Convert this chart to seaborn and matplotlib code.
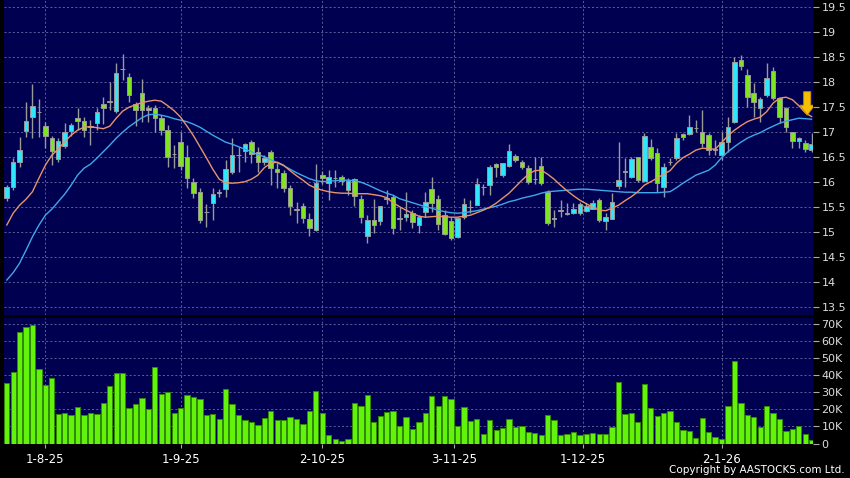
import numpy as np
import pandas as pd
import matplotlib
matplotlib.use("Agg")
import matplotlib.pyplot as plt
import seaborn as sns
from matplotlib.ticker import FuncFormatter, MultipleLocator

### Daily candles (Jul-2025 .. Jan-2026)
opens = [15.67, 15.89, 16.40, 17.02, 17.29, 17.39, 17.12, 16.88, 16.45, 16.71,
         17.01, 17.27, 17.22, 17.10, 17.18, 17.55, 17.60, 17.42, 18.25, 18.10,
         17.55, 17.77, 17.43, 17.48, 17.27, 17.03, 16.55, 16.80, 16.50, 16.00,
         15.80, 15.39, 15.57, 15.78, 15.85, 16.19, 16.53, 16.61, 16.80, 16.60,
         16.39, 16.59, 16.25, 16.17, 15.87, 15.45, 15.52, 15.25, 15.03, 16.13,
         15.97, 16.07, 16.10, 15.83, 16.05, 15.65, 14.91, 15.23, 15.22, 15.66,
         15.70, 15.27, 15.30, 15.37, 15.13, 15.40, 15.85, 15.65, 15.33, 15.22,
         14.89, 15.29, 15.49, 15.53, 15.89, 15.93, 16.35, 16.13, 16.32, 16.52,
         16.40, 16.27, 16.05, 16.31, 15.80, 15.27, 15.42, 15.35, 15.37, 15.37,
         15.41, 15.45, 15.63, 15.21, 15.25, 15.92, 16.20, 16.10, 16.50, 16.01,
         16.69, 16.57, 15.90, 16.39, 16.47, 16.95, 16.95, 17.07, 17.00, 16.93,
         16.65, 16.53, 16.80, 17.20, 18.43, 18.13, 17.77, 17.47, 17.73, 18.22,
         17.67, 17.47, 17.00, 16.82, 16.78, 16.63]
highs = [15.93, 16.47, 16.89, 17.60, 17.95, 17.65, 17.20, 16.91, 16.87, 17.17,
         17.17, 17.48, 17.30, 17.23, 17.47, 17.70, 17.99, 18.37, 18.55, 18.18,
         17.60, 18.05, 17.53, 17.53, 17.33, 17.13, 16.73, 17.00, 16.73, 16.07,
         15.87, 15.55, 15.87, 15.85, 16.43, 16.87, 16.70, 16.78, 16.83, 16.70,
         16.53, 16.63, 16.37, 16.23, 15.93, 15.60, 15.57, 15.37, 16.36, 16.22,
         16.23, 16.23, 16.13, 16.07, 16.08, 15.73, 15.33, 15.65, 15.52, 15.84,
         15.73, 15.50, 15.80, 15.43, 15.33, 15.80, 16.10, 15.73, 15.43, 15.30,
         15.30, 15.67, 15.63, 16.07, 15.95, 16.33, 16.37, 16.37, 16.75, 16.55,
         16.43, 16.33, 16.50, 16.50, 15.83, 15.43, 15.63, 15.57, 15.57, 15.60,
         15.57, 15.63, 15.67, 15.37, 15.78, 16.80, 16.47, 16.50, 16.50, 16.97,
         16.85, 16.67, 16.37, 16.47, 16.98, 16.98, 17.33, 17.23, 17.43, 16.97,
         16.83, 17.00, 17.30, 18.49, 18.53, 18.25, 17.97, 17.70, 18.38, 18.30,
         17.67, 17.50, 17.00, 16.90, 16.83, 16.97]
lows = [15.62, 15.83, 16.30, 16.89, 16.87, 16.90, 16.68, 16.33, 16.39, 16.67,
        16.91, 17.03, 16.90, 16.73, 17.03, 17.15, 17.43, 17.38, 18.03, 17.60,
        17.12, 17.20, 17.20, 17.00, 16.93, 16.30, 16.27, 16.23, 15.87, 15.67,
        15.17, 15.10, 15.23, 15.70, 15.70, 16.15, 16.20, 16.40, 16.37, 16.20,
        16.33, 15.93, 15.87, 15.80, 15.33, 15.17, 15.17, 14.92, 15.02, 15.95,
        15.63, 15.90, 15.93, 15.73, 15.52, 15.18, 14.77, 14.97, 15.13, 15.56,
        14.95, 15.03, 15.22, 15.07, 14.97, 15.30, 15.40, 15.03, 14.93, 14.83,
        14.87, 15.25, 15.37, 15.53, 15.73, 15.73, 16.10, 16.10, 16.30, 16.40,
        16.25, 15.95, 15.95, 15.93, 15.13, 15.10, 15.30, 15.33, 15.35, 15.33,
        15.40, 15.45, 15.20, 15.03, 15.25, 15.85, 15.90, 16.07, 16.00, 16.00,
        16.43, 15.80, 15.70, 16.33, 16.43, 16.83, 16.93, 17.00, 16.70, 16.53,
        16.53, 16.43, 16.60, 17.17, 18.23, 17.50, 17.30, 17.20, 17.70, 17.63,
        17.17, 17.00, 16.67, 16.67, 16.60, 16.60]
closes = [15.89, 16.39, 16.63, 17.21, 17.52, 17.39, 16.92, 16.61, 16.82, 17.00,
          17.14, 17.22, 17.03, 17.10, 17.39, 17.47, 17.60, 18.18, 18.25, 17.73,
          17.43, 17.43, 17.48, 17.27, 17.03, 16.49, 16.55, 16.31, 16.07, 15.78,
          15.23, 15.39, 15.75, 15.78, 16.25, 16.53, 16.53, 16.75, 16.55, 16.40,
          16.47, 16.27, 16.19, 15.87, 15.52, 15.45, 15.27, 15.07, 15.98, 16.07,
          16.10, 16.07, 16.01, 16.01, 15.71, 15.30, 15.23, 15.13, 15.51, 15.66,
          15.07, 15.27, 15.35, 15.20, 15.30, 15.60, 15.57, 15.15, 14.95, 14.87,
          15.27, 15.55, 15.49, 15.95, 15.89, 16.29, 16.29, 16.37, 16.62, 16.43,
          16.29, 16.00, 16.05, 15.98, 15.17, 15.27, 15.42, 15.38, 15.45, 15.55,
          15.51, 15.58, 15.23, 15.30, 15.60, 16.03, 16.20, 16.45, 16.03, 16.92,
          16.47, 15.97, 16.30, 16.39, 16.87, 16.90, 17.09, 17.07, 16.77, 16.63,
          16.65, 16.80, 17.10, 18.40, 18.31, 17.70, 17.60, 17.65, 18.07, 17.67,
          17.30, 17.09, 16.82, 16.87, 16.65, 16.75]
volume_k = [35.7, 42.1, 65.3, 68.4, 69.4, 43.9, 34.3, 38.4, 17.2, 17.7,
            16.4, 21.2, 16.4, 17.7, 17.5, 23.8, 33.5, 41.1, 41.1, 20.5,
            23.4, 26.9, 20.1, 44.6, 29.0, 30.0, 18.1, 20.7, 28.5, 27.3,
            26.1, 16.8, 17.3, 14.6, 32.2, 23.4, 16.8, 13.5, 12.3, 10.9,
            15.0, 19.1, 13.8, 13.8, 15.8, 14.4, 11.3, 18.9, 30.6, 18.1,
            5.1, 2.5, 1.4, 2.7, 23.8, 21.8, 28.5, 12.3, 16.0, 18.3,
            19.1, 10.3, 15.6, 8.2, 12.3, 17.7, 28.1, 22.2, 28.1, 26.1,
            10.3, 21.2, 13.1, 14.2, 5.3, 13.8, 8.0, 8.8, 14.6, 9.4,
            10.3, 6.6, 6.0, 4.9, 16.6, 13.6, 5.1, 5.3, 7.0, 5.1,
            5.5, 6.2, 5.7, 5.5, 9.4, 36.3, 17.0, 17.7, 12.3, 34.9,
            20.7, 16.0, 17.7, 19.3, 12.5, 7.8, 7.4, 3.1, 15.0, 6.8,
            3.7, 2.9, 22.0, 48.5, 24.0, 16.8, 15.8, 9.9, 22.0, 18.1,
            14.4, 7.2, 8.6, 10.3, 5.5, 1.9]
# moving averages as drawn (orange = short, blue = long)
ma_short = [15.13, 15.37, 15.53, 15.65, 15.80, 16.07, 16.33, 16.53, 16.65, 16.80,
            16.93, 17.03, 17.09, 17.10, 17.08, 17.06, 17.11, 17.27, 17.41, 17.49,
            17.54, 17.58, 17.61, 17.63, 17.61, 17.52, 17.42, 17.29, 17.11, 16.92,
            16.70, 16.48, 16.25, 16.05, 15.98, 15.97, 15.98, 16.00, 16.05, 16.13,
            16.28, 16.37, 16.39, 16.33, 16.22, 16.12, 16.03, 15.93, 15.87, 15.83,
            15.80, 15.78, 15.77, 15.77, 15.76, 15.76, 15.76, 15.74, 15.72, 15.68,
            15.58, 15.50, 15.43, 15.37, 15.31, 15.29, 15.30, 15.31, 15.30, 15.29,
            15.29, 15.31, 15.33, 15.38, 15.43, 15.49, 15.57, 15.67, 15.77, 15.90,
            16.03, 16.15, 16.22, 16.23, 16.15, 16.05, 15.93, 15.82, 15.72, 15.63,
            15.56, 15.49, 15.43, 15.42, 15.47, 15.53, 15.62, 15.70, 15.80, 15.93,
            16.00, 16.07, 16.15, 16.22, 16.37, 16.48, 16.55, 16.63, 16.67, 16.66,
            16.65, 16.78, 16.92, 17.03, 17.12, 17.20, 17.25, 17.29, 17.40, 17.57,
            17.67, 17.69, 17.64, 17.52, 17.38, 17.30]
ma_long = [14.03, 14.18, 14.37, 14.63, 14.90, 15.13, 15.33, 15.45, 15.60, 15.75,
           15.93, 16.13, 16.27, 16.35, 16.47, 16.60, 16.73, 16.87, 16.99, 17.10,
           17.19, 17.28, 17.34, 17.35, 17.33, 17.30, 17.26, 17.23, 17.20, 17.15,
           17.09, 17.01, 16.93, 16.86, 16.79, 16.75, 16.70, 16.65, 16.60, 16.54,
           16.50, 16.44, 16.38, 16.32, 16.25, 16.18, 16.12, 16.06, 16.02, 16.00,
           16.01, 16.02, 16.03, 16.03, 16.02, 15.99, 15.94, 15.88, 15.82, 15.77,
           15.73, 15.66, 15.62, 15.58, 15.54, 15.50, 15.47, 15.43, 15.40, 15.38,
           15.37, 15.38, 15.40, 15.42, 15.45, 15.48, 15.51, 15.55, 15.60, 15.63,
           15.67, 15.70, 15.73, 15.77, 15.80, 15.81, 15.82, 15.83, 15.84, 15.85,
           15.85, 15.84, 15.83, 15.82, 15.81, 15.80, 15.79, 15.79, 15.78, 15.78,
           15.78, 15.78, 15.79, 15.80, 15.88, 15.97, 16.05, 16.13, 16.18, 16.23,
           16.33, 16.48, 16.60, 16.70, 16.79, 16.87, 16.93, 16.98, 17.05, 17.11,
           17.17, 17.21, 17.24, 17.27, 17.26, 17.25]
date_labels = ['1-8-25', '1-9-25', '2-10-25', '3-11-25', '1-12-25', '2-1-26']
date_pos = [6, 27, 49, 69.5, 89.5, 111]

data = pd.DataFrame({'open': opens, 'high': highs, 'low': lows, 'close': closes,
                     'volume': np.array(volume_k) * 1000,
                     'ma_short': ma_short, 'ma_long': ma_long})
data['idx'] = np.arange(len(data))

BG = '#000050'
UP = '#2fe6fa'
DOWN = '#80e420'
EDGE = '#9a9a9a'
GRID = '#6a6aa0'
VOL = '#62f20c'
VOL_EDGE = '#2f8a00'

sns.set_theme(style='dark', rc={'axes.facecolor': BG, 'figure.facecolor': 'black'})
plt.rcParams['font.family'] = ['DejaVu Sans']

fig = plt.figure(figsize=(8.5, 4.78), dpi=100, facecolor='black')
ax = fig.add_axes([4 / 850, 1 - 315 / 478, 809 / 850, 315 / 478])
axv = fig.add_axes([4 / 850, 1 - 443.5 / 478, 809 / 850, 125.5 / 478])

### Price panel
up = data['close'] > data['open']
down = data['close'] < data['open']
colors = np.where(up, UP, np.where(down, DOWN, EDGE))
body = (data['close'] - data['open']).abs()
body_h = np.maximum(body, 0.012)
body_lo = np.minimum(data['open'], data['close']) - (body_h - body) / 2

ax.vlines(data['idx'], data['low'], data['high'], color=EDGE, linewidth=1, zorder=2)
ax.bar(data['idx'], body_h, bottom=body_lo, width=0.7, color=colors,
       edgecolor=EDGE, linewidth=0.7, zorder=3)
sns.lineplot(data=data, x='idx', y='ma_long', ax=ax, color='#3fa8ea', linewidth=1, zorder=4)
sns.lineplot(data=data, x='idx', y='ma_short', ax=ax, color='#e8946a', linewidth=1, zorder=4)

ax.arrow(124.3, 17.80, 0, -0.47, width=1.1, head_width=2.3, head_length=0.2,
         length_includes_head=True, fc='#f5c000', ec='#c89000', lw=0.6, zorder=5)

ax.set_xlim(-0.42, 125.2)
ax.set_ylim(13.334, 19.634)
ax.yaxis.set_major_locator(MultipleLocator(0.5))
ax.yaxis.set_major_formatter(FuncFormatter(lambda v, p: '%g' % v))
ax.set_xticks(date_pos)
ax.set_xticklabels([])

### Volume panel
sns.barplot(data=data, x='idx', y='volume', native_scale=True, color=VOL,
            edgecolor=VOL_EDGE, linewidth=0.7, width=0.82, saturation=1,
            errorbar=None, ax=axv)
axv.set_xlim(-0.42, 125.2)
axv.set_ylim(0, 73500)
axv.yaxis.set_major_locator(MultipleLocator(10000))
axv.yaxis.set_major_formatter(FuncFormatter(lambda v, p: '0' if v == 0 else '%dK' % (v / 1000)))
axv.set_xticks(date_pos)
axv.set_xticklabels(date_labels)

for a in (ax, axv):
    a.set_facecolor(BG)
    a.set_xlabel('')
    a.set_ylabel('')
    for s in a.spines.values():
        s.set_visible(False)
    a.grid(True, color=GRID, linestyle=(0, (2.5, 2.5)), linewidth=0.6)
    a.set_axisbelow(True)
    a.yaxis.tick_right()
    a.tick_params(axis='y', right=True, left=False, labelright=True, labelleft=False,
                  length=4, width=0.8, color='#aaaaaa', labelcolor='#dddddd',
                  labelsize=8, pad=2, direction='out')

ax.tick_params(axis='x', length=0, bottom=False)
axv.tick_params(axis='x', bottom=True, length=3, width=0.8, color='#aaaaaa',
                labelcolor='white', labelsize=8.5, pad=4, direction='out')

fig.text(0.994, 0.006, 'Copyright by AASTOCKS.com Ltd.', ha='right', va='bottom',
         color='white', fontsize=7.5)

fig.savefig('out.png', dpi=100, facecolor='black')
